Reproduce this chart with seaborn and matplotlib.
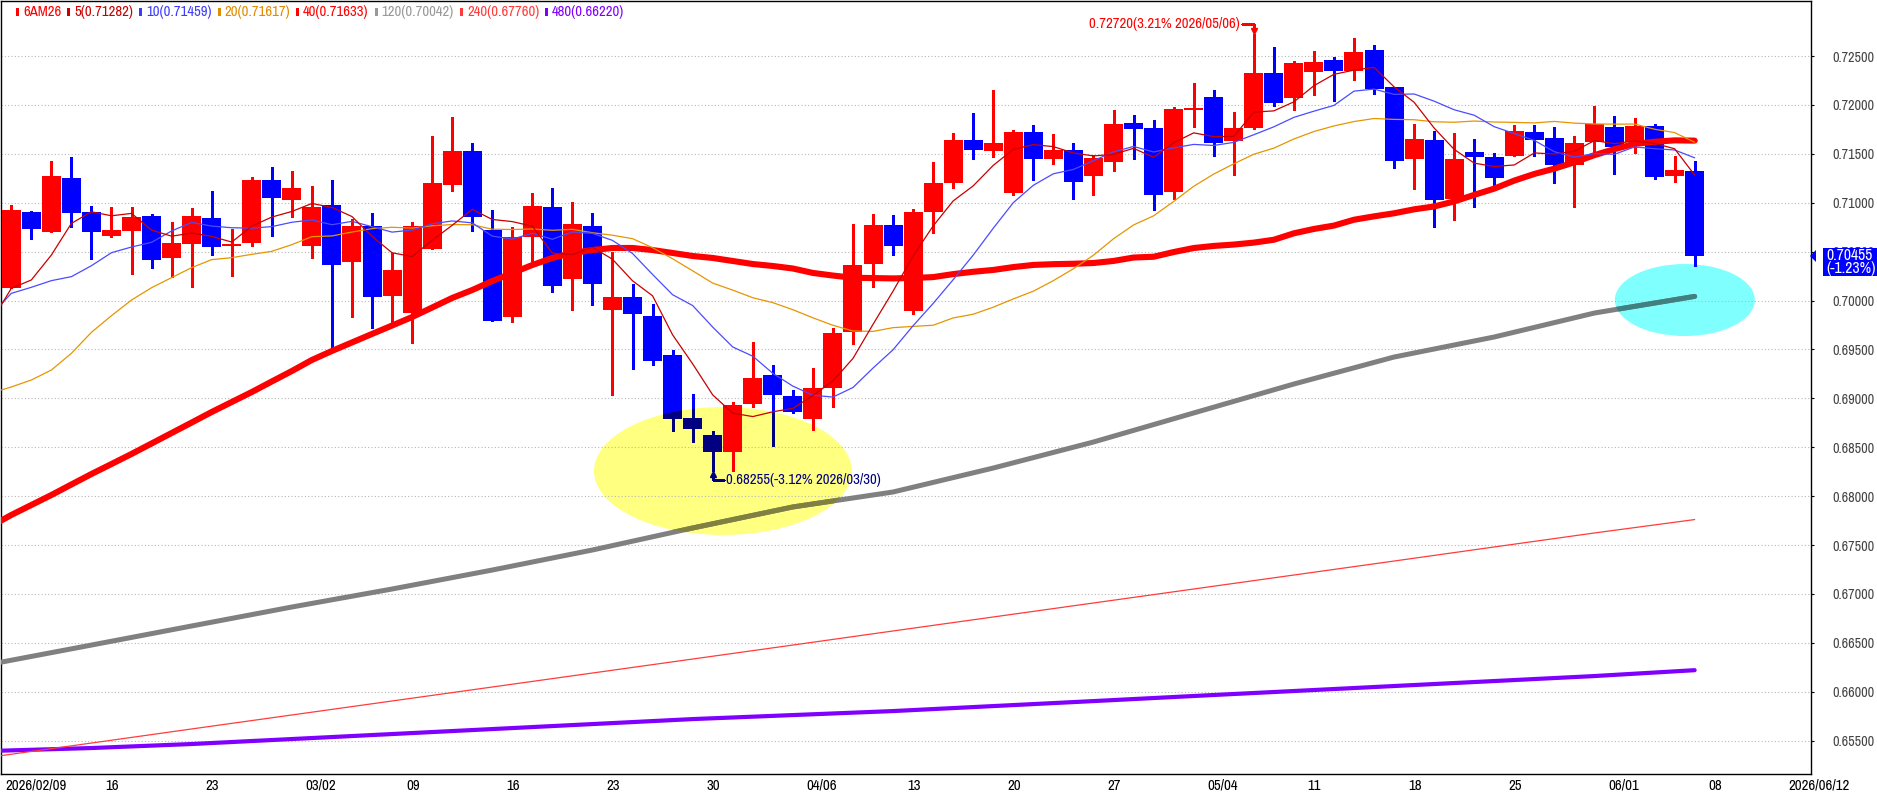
import os
import numpy as np
import pandas as pd
import matplotlib
matplotlib.use("Agg")
import matplotlib.pyplot as plt
import matplotlib.transforms as mtrans
from matplotlib.patches import Ellipse, Rectangle, Polygon
from matplotlib import font_manager as fm
import seaborn as sns

# ---------------- data ----------------
symbol = "6AM26"
dates = pd.bdate_range("2026-02-09", "2026-06-05")

opens = [0.70131, 0.70905, 0.70704, 0.71253, 0.70905, 0.70663, 0.70714, 0.70864, 0.70438, 0.70581,
         0.70844, 0.70561, 0.70591, 0.71232, 0.71031, 0.70561, 0.70977, 0.70394, 0.70762, 0.70049,
         0.69876, 0.70530, 0.71184, 0.71529, 0.70721, 0.69835, 0.70653, 0.70956, 0.70223, 0.70762,
         0.69906, 0.70036, 0.69842, 0.69443, 0.68795, 0.68625, 0.68448, 0.68945, 0.69238, 0.69024,
         0.68792, 0.69109, 0.69675, 0.70377, 0.70772, 0.69896, 0.70908, 0.71205, 0.71645, 0.71532,
         0.71099, 0.71723, 0.71450, 0.71539, 0.71276, 0.71420, 0.71815, 0.71764, 0.71109, 0.71948,
         0.72081, 0.71634, 0.71760, 0.72326, 0.72074, 0.72340, 0.72459, 0.72350, 0.72561, 0.72183,
         0.71450, 0.71641, 0.71038, 0.71518, 0.71467, 0.71481, 0.71723, 0.71662, 0.71389, 0.71624,
         0.71774, 0.71624, 0.71784, 0.71276, 0.71324]
highs = [0.70977, 0.70915, 0.71426, 0.71467, 0.70966, 0.70956, 0.70956, 0.70885, 0.70803, 0.70946,
         0.71123, 0.70731, 0.71263, 0.71365, 0.71324, 0.71171, 0.71232, 0.70833, 0.70895, 0.70489,
         0.70803, 0.71685, 0.71876, 0.71614, 0.70929, 0.70748, 0.71099, 0.71150, 0.71007, 0.70895,
         0.70500, 0.70169, 0.69961, 0.69494, 0.69044, 0.68666, 0.68966, 0.69576, 0.69341, 0.69085,
         0.69313, 0.69722, 0.70786, 0.70885, 0.70874, 0.70939, 0.71416, 0.71713, 0.71921, 0.72156,
         0.71743, 0.71795, 0.71703, 0.71610, 0.71491, 0.71948, 0.71897, 0.71846, 0.71979, 0.72227,
         0.72152, 0.71927, 0.72720, 0.72592, 0.72449, 0.72551, 0.72490, 0.72684, 0.72613, 0.72183,
         0.71805, 0.71733, 0.71713, 0.71651, 0.71505, 0.71795, 0.71795, 0.71774, 0.71682, 0.71989,
         0.71887, 0.71866, 0.71805, 0.71478, 0.71426]
lows = [0.70124, 0.70632, 0.70697, 0.70755, 0.70428, 0.70653, 0.70274, 0.70336, 0.70244, 0.70142,
        0.70469, 0.70254, 0.70561, 0.70663, 0.70857, 0.70438, 0.69477, 0.69835, 0.69722, 0.69767,
        0.69562, 0.70530, 0.71123, 0.70714, 0.69794, 0.69784, 0.70404, 0.70090, 0.69906, 0.69957,
        0.69030, 0.69303, 0.69344, 0.68669, 0.68557, 0.68255, 0.68260, 0.68915, 0.68516, 0.68846,
        0.68676, 0.68908, 0.69552, 0.70142, 0.70469, 0.69862, 0.70694, 0.71154, 0.71450, 0.71471,
        0.71082, 0.71236, 0.71396, 0.71041, 0.71082, 0.71328, 0.71450, 0.70929, 0.71038, 0.71774,
        0.71481, 0.71287, 0.71750, 0.71992, 0.71951, 0.72105, 0.72043, 0.72258, 0.72115, 0.71358,
        0.71144, 0.70755, 0.70827, 0.70960, 0.71164, 0.71481, 0.71481, 0.71205, 0.70960, 0.71515,
        0.71294, 0.71505, 0.71246, 0.71215, 0.70356]
closes = [0.70925, 0.70735, 0.71273, 0.70898, 0.70704, 0.70721, 0.70857, 0.70418, 0.70588, 0.70864,
          0.70550, 0.70568, 0.71232, 0.71052, 0.71150, 0.70959, 0.70366, 0.70765, 0.70039, 0.70312,
          0.70762, 0.71201, 0.71529, 0.70857, 0.69794, 0.70653, 0.70966, 0.70152, 0.70782, 0.70172,
          0.70036, 0.69865, 0.69385, 0.68785, 0.68690, 0.68448, 0.68932, 0.69211, 0.69030, 0.68863,
          0.69109, 0.69671, 0.70366, 0.70772, 0.70561, 0.70908, 0.71205, 0.71645, 0.71542, 0.71610,
          0.71723, 0.71450, 0.71542, 0.71215, 0.71461, 0.71805, 0.71757, 0.71082, 0.71958, 0.71968,
          0.71614, 0.71764, 0.72326, 0.72023, 0.72428, 0.72439, 0.72347, 0.72541, 0.72166, 0.71430,
          0.71651, 0.71031, 0.71447, 0.71464, 0.71256, 0.71733, 0.71645, 0.71389, 0.71610, 0.71801,
          0.71573, 0.71784, 0.71266, 0.71334, 0.70455]

# moving-average values for the days before each window is full (day -1 ...)
ma5_head = [0.69784, 0.70124, 0.70210, 0.70465, 0.70789]
ma10_head = [0.69855, 0.70073, 0.70135, 0.70203, 0.70244, 0.70356, 0.70489, 0.70547, 0.70595, 0.70711]
ma20_head = [0.69054, 0.69116, 0.69187, 0.69289, 0.69460, 0.69675, 0.69845, 0.70005, 0.70131, 0.70234,
             0.70336, 0.70418, 0.70438, 0.70472, 0.70503, 0.70571, 0.70653, 0.70660, 0.70700, 0.70735]
ma40_head = [0.67694, 0.67807, 0.67909, 0.68011, 0.68119, 0.68226, 0.68328, 0.68431, 0.68538, 0.68645,
             0.68752, 0.68860, 0.68962, 0.69064, 0.69172, 0.69279, 0.69392, 0.69484, 0.69571, 0.69658,
             0.69744, 0.69831, 0.69928, 0.70026, 0.70107, 0.70199, 0.70281, 0.70363, 0.70435, 0.70486,
             0.70516, 0.70537, 0.70537, 0.70516, 0.70486, 0.70455, 0.70435, 0.70404, 0.70373, 0.70353]

# long moving averages read at every 5th day
long_idx = [-1, 4, 9, 14, 19, 24, 29, 34, 39, 44, 49, 54, 59, 64, 69, 74, 79, 84]
ma120 = [0.66283, 0.66477, 0.66672, 0.66866, 0.67050, 0.67244, 0.67449, 0.67674, 0.67889, 0.68042,
         0.68287, 0.68553, 0.68850, 0.69146, 0.69422, 0.69627, 0.69872, 0.70042]
ma240 = [0.65332, 0.65475, 0.65619, 0.65762, 0.65905, 0.66048, 0.66191, 0.66334, 0.66477, 0.66621,
         0.66764, 0.66907, 0.67050, 0.67193, 0.67336, 0.67480, 0.67623, 0.67760]
ma480 = [0.65394, 0.65424, 0.65465, 0.65516, 0.65567, 0.65618, 0.65669, 0.65720, 0.65761, 0.65802,
         0.65853, 0.65904, 0.65956, 0.66007, 0.66058, 0.66109, 0.66160, 0.66220]

week_tick_idx = [0, 5, 10, 15, 20, 25, 30, 35, 40, 45, 50, 55, 60, 65, 70, 75, 80, 85, 89]
week_tick_labels = ["2026/02/09", "16", "23", "03/02", "09", "16", "23", "30", "04/06", "13",
                    "20", "27", "05/04", "11", "18", "25", "06/01", "08", "2026/06/12"]
price_ticks = [0.655, 0.660, 0.665, 0.670, 0.675, 0.680, 0.685, 0.690, 0.695, 0.700,
               0.705, 0.710, 0.715, 0.720, 0.725]

legend_labels = ["6AM26", "5(0.71282)", "10(0.71459)", "20(0.71617)", "40(0.71633)",
                 "120(0.70042)", "240(0.67760)", "480(0.66220)"]
legend_colors = ["#FF0000", "#C80000", "#3C3CFF", "#E08C00", "#FF0000", "#999999", "#FF3C3C", "#8000FF"]

hi_idx, hi_label = 62, "0.72720(3.21% 2026/05/06)"
lo_idx, lo_label = 35, "0.68255(-3.12% 2026/03/30)"
last_price_label = "0.70455"
last_change_label = "(-1.23%)"

# ---------------- fonts ----------------
sns.set_theme(style="white")


def narrow_font():
    found = []
    for f in fm.fontManager.ttflist:
        nm = f.name.lower()
        fn = os.path.basename(f.fname).lower()
        if str(f.style).lower() != "normal":
            continue
        w = f.weight
        try:
            w = int(w)
        except Exception:
            w = 400 if str(w).lower() in ("normal", "regular", "book") else 700
        if w != 400:
            continue
        if "mono" in nm or ("serif" in nm and "sans" not in nm):
            continue
        st = str(f.stretch).lower()
        score = None
        if "narrow" in nm or "narrow" in fn:
            score = 0
        elif "condensed" in nm or "condensed" in fn or st in ("condensed", "semi-condensed"):
            score = 2 if ("extra" in fn or "ultra" in fn or "semi" in fn) else 1
        if score is not None:
            found.append((score, f.fname))
    if found:
        found.sort()
        return fm.FontProperties(fname=found[0][1])
    return fm.FontProperties(family="Liberation Sans")


BASEFP = narrow_font()
plt.rcParams["font.family"] = ["Liberation Sans", "DejaVu Sans"]

W, H = 1877, 793
fig = plt.figure(figsize=(W / 100, H / 100), dpi=100)
fig.patch.set_facecolor("white")
renderer = fig.canvas.get_renderer()


def fp_for(sample, target_px):
    p = BASEFP.copy()
    p.set_size(10)
    t = fig.text(0, 0, sample, fontproperties=p)
    wpx = t.get_window_extent(renderer=renderer).width
    t.remove()
    q = BASEFP.copy()
    q.set_size(10 * target_px / max(wpx, 1))
    return q


FP_Y = fp_for("0.72500", 41.5)
FP_X = fp_for("2026/02/09", 60)
FP_LEG = fp_for("5(0.71282)", 58)
FP_ANN = fp_for("0.72720(3.21% 2026/05/06)", 149)
FP_TAG = fp_for("0.70455", 46)

# ---------------- axes ----------------
L, R, T, B = 0.5, 1811, 0.5, 774
ax = fig.add_axes([L / W, (H - B) / H, (R - L) / W, (B - T) / H])
ax.set_facecolor("white")
X0, DX = 11.3, 20.04
YTOP, YBOT = 0.730675, 0.651585
ax.set_xlim((L - X0) / DX, (R - X0) / DX)
ax.set_ylim(YBOT, YTOP)

k = np.arange(len(closes))
o = np.array(opens); c = np.array(closes); h = np.array(highs); lo = np.array(lows)
up = c >= o
col = np.where(up, "#FF0000", "#0000FF")
body_bot = np.minimum(o, c)
body_h = np.maximum(np.abs(c - o), 0.00012)

# highlight ellipses
yel = Ellipse((35.51, 0.68257), 12.87, 0.013088, facecolor="#FFFF80", edgecolor="none", zorder=0.3)
cya = Ellipse((83.51, 0.70005), 6.99, 0.00736, facecolor="#80FFFF", edgecolor="none", zorder=0.3)
ax.add_patch(yel)
ax.add_patch(cya)

# candles
ax.vlines(k, lo, h, colors=col, linewidth=1.0, zorder=3, antialiased=False)
ax.bar(k, body_h, bottom=body_bot, width=0.95, color=col, linewidth=0, zorder=4, antialiased=False)
blue = ~up
vn = ax.vlines(k[blue], lo[blue], h[blue], colors="#000080", linewidth=1.0, zorder=3.1, antialiased=False)
vn.set_clip_path(yel)
bn = ax.bar(k[blue], body_h[blue], bottom=body_bot[blue], width=0.95, color="#000080",
            linewidth=0, zorder=4.1, antialiased=False)
for b in bn:
    b.set_clip_path(yel)

# moving averages
cl = pd.Series(closes)


def ma_line(n, head):
    r = cl.rolling(n).mean().to_numpy()
    vals = np.concatenate([np.array(head), r[n - 1:]])
    return np.arange(-1, len(closes)), vals


def draw(x, y, color, lw, z, clip=None):
    sns.lineplot(x=x, y=y, ax=ax, color=color, linewidth=lw, zorder=z, legend=False,
                 estimator=None, sort=False)
    ln = ax.lines[-1]
    if clip is not None:
        ln.set_clip_path(clip)
    return ln


draw(long_idx, ma480, "#8000FF", 3.0, 5)
draw(long_idx, ma240, "#FF3C3C", 0.9, 5.1)
draw(long_idx, ma120, "#808080", 3.6, 5.2)
draw(long_idx, ma120, "#808040", 3.6, 5.25, clip=yel)
draw(long_idx, ma120, "#408080", 3.6, 5.25, clip=cya)
x40, y40 = ma_line(40, ma40_head)
draw(x40, y40, "#FF0000", 4.4, 6)
x20, y20 = ma_line(20, ma20_head)
draw(x20, y20, "#E69500", 0.9, 7)
x10, y10 = ma_line(10, ma10_head)
draw(x10, y10, "#4B4BFF", 0.9, 8)
draw(x10, y10, "#000080", 0.9, 8.05, clip=yel)
x5, y5 = ma_line(5, ma5_head)
draw(x5, y5, "#C80000", 0.9, 9)

# axes styling
for s in ax.spines.values():
    s.set_color("black")
    s.set_linewidth(1.0)
ax.set_yticks(price_ticks)
ax.set_yticklabels([f"{v:.5f}" for v in price_ticks])
ax.yaxis.tick_right()
ax.set_axisbelow(True)
ax.yaxis.grid(True, color="#B8B8B8", linestyle=(0, (1, 2)), linewidth=0.8)
ax.xaxis.grid(False)
ax.tick_params(axis="y", which="both", left=False, right=True, labelleft=False, labelright=True,
               direction="out", length=2.5, width=0.8, pad=12.6,
               labelcolor="#444444", color="black")
ax.set_xticks([i - 0.41 for i in week_tick_idx])
ax.set_xticklabels(week_tick_labels)
ax.tick_params(axis="x", direction="out", length=3, width=0.8, pad=0.3, colors="black")
for lab in ax.get_yticklabels():
    lab.set_fontproperties(FP_Y)
shift = mtrans.ScaledTranslation(0.02, 0, fig.dpi_scale_trans)
for lab in ax.get_xticklabels():
    lab.set_fontproperties(FP_X)
    lab.set_horizontalalignment("left")
    lab.set_transform(lab.get_transform() + shift)
ax.set_xlabel("")
ax.set_ylabel("")

PX_X = 1.0 / DX
PX_Y = (YTOP - YBOT) / (B - T)

# high annotation
hx, hy = hi_idx, highs[hi_idx]
ty = hy + 10.5 * PX_Y
ax.plot([hx - 12 * PX_X, hx, hx], [ty, ty, hy + 4 * PX_Y], color="#FF0000", linewidth=0.9,
        zorder=10, antialiased=False)
ax.plot([hx], [hy + 3 * PX_Y], marker="v", markersize=4, color="#FF0000", zorder=10)
ax.text(hx - 13.8 * PX_X, ty, hi_label, color="#FF0000", fontproperties=FP_ANN, ha="right",
        va="center", zorder=10)

# low annotation
lx, ly = lo_idx, lows[lo_idx]
ty2 = ly - 9.3 * PX_Y
ax.plot([lx, lx, lx + 11 * PX_X], [ly - 3 * PX_Y, ty2, ty2], color="#000080", linewidth=0.9,
        zorder=10, antialiased=False)
ax.plot([lx], [ly - 3 * PX_Y], marker="^", markersize=4, color="#000080", zorder=10)
ax.text(lx + 13.4 * PX_X, ty2, lo_label, color="#000080", fontproperties=FP_ANN, ha="left",
        va="center", zorder=10)

# overlay in pixel coordinates for legend and price tag
ov = fig.add_axes([0, 0, 1, 1], facecolor="none")
ov.set_xlim(0, W)
ov.set_ylim(H, 0)
ov.axis("off")

xpos = 16
for lbl, colr in zip(legend_labels, legend_colors):
    ov.add_patch(Rectangle((xpos, 8), 3, 8, facecolor=colr, edgecolor="none"))
    t = ov.text(xpos + 7, 12, lbl, color=colr, fontproperties=FP_LEG, ha="left", va="center")
    bb = t.get_window_extent(renderer=renderer)
    xpos = bb.x1 + 6

last_y = T + (YTOP - closes[-1]) / PX_Y
ov.add_patch(Polygon([(1810, last_y), (1816, last_y - 6), (1816, last_y + 6)], closed=True,
                     facecolor="#0000FF", edgecolor="none", zorder=5))
ov.add_patch(Rectangle((1823, 248), 60, 28, facecolor="#0000FF", edgecolor="none", zorder=5))
ov.text(1826, 255.5, last_price_label, color="white", fontproperties=FP_TAG, ha="left",
        va="center", zorder=6)
ov.text(1826, 268.5, last_change_label, color="white", fontproperties=FP_TAG, ha="left",
        va="center", zorder=6)

fig.savefig("out.png", dpi=100, facecolor="white")
